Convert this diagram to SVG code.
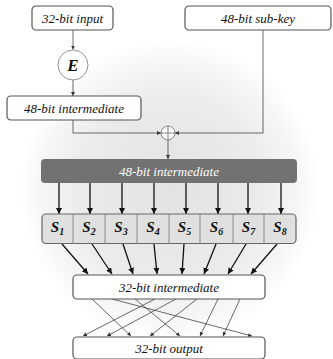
<svg xmlns="http://www.w3.org/2000/svg" width="333" height="359" viewBox="0 0 333 359">
<defs>
<radialGradient id="bg" cx="170" cy="190" r="150" gradientUnits="userSpaceOnUse">
<stop offset="0" stop-color="#e2e2e2"/>
<stop offset="0.6" stop-color="#ebebeb"/>
<stop offset="0.85" stop-color="#f6f6f6"/>
<stop offset="1" stop-color="#ffffff"/>
</radialGradient>
<marker id="a" viewBox="0 0 10 10" refX="10" refY="5" markerWidth="4" markerHeight="4" orient="auto" markerUnits="userSpaceOnUse"><path d="M0,0 L10,5 L0,10 z" fill="#333"/></marker>
<marker id="b" viewBox="0 0 10 10" refX="10" refY="5" markerWidth="6" markerHeight="6" orient="auto" markerUnits="userSpaceOnUse"><path d="M0,0 L10,5 L0,10 z" fill="#111"/></marker>
<style>
.box{fill:#fff;stroke:#555;stroke-width:1.2}
text{font-family:'Liberation Serif','Tinos','DejaVu Serif','Times New Roman',serif;font-style:italic}
.t{font-size:13px;fill:#111;text-anchor:middle}
.w{fill:#fff}
.s{font-weight:bold;font-size:15px;fill:#111;text-anchor:middle}
.e{font-weight:bold;font-size:17px;fill:#111;text-anchor:middle}
.c{fill:none;stroke:#444;stroke-width:0.8}
.k{fill:none;stroke:#111;stroke-width:1.3}
</style>
</defs>
<rect width="333" height="359" fill="#fff"/>
<circle cx="170" cy="190" r="150" fill="url(#bg)"/>
<g id="connectors">
<path class="c" d="M73,30 V49.5" marker-end="url(#a)"/>
<path class="c" d="M73,80 V96" marker-end="url(#a)"/>
<path class="c" d="M73,120 V133 H161" marker-end="url(#a)"/>
<path class="c" d="M263,30 V133 H175" marker-end="url(#a)"/>
<path class="c" d="M168,140 V159" marker-end="url(#a)"/>
<path class="k" d="M59,183 V214" marker-end="url(#b)"/>
<path class="k" d="M90,183 V214" marker-end="url(#b)"/>
<path class="k" d="M122,183 V214" marker-end="url(#b)"/>
<path class="k" d="M154,183 V214" marker-end="url(#b)"/>
<path class="k" d="M186,183 V214" marker-end="url(#b)"/>
<path class="k" d="M218,183 V214" marker-end="url(#b)"/>
<path class="k" d="M248,183 V214" marker-end="url(#b)"/>
<path class="k" d="M281,183 V214" marker-end="url(#b)"/>
<path class="k" d="M62,244 L88,274" marker-end="url(#b)"/>
<path class="k" d="M92,244 L112,274" marker-end="url(#b)"/>
<path class="k" d="M123,244 L133,274" marker-end="url(#b)"/>
<path class="k" d="M154,244 L157,274" marker-end="url(#b)"/>
<path class="k" d="M184,244 L182,274" marker-end="url(#b)"/>
<path class="k" d="M216,244 L204,274" marker-end="url(#b)"/>
<path class="k" d="M246,244 L228,274" marker-end="url(#b)"/>
<path class="k" d="M277,244 L251,274" marker-end="url(#b)"/>
<path class="c" d="M92,299 L131,336" marker-end="url(#a)"/>
<path class="c" d="M112,299 L252,336" marker-end="url(#a)"/>
<path class="c" d="M135,299 L180,336" marker-end="url(#a)"/>
<path class="c" d="M155,299 L83,336" marker-end="url(#a)"/>
<path class="c" d="M176,299 L107,336" marker-end="url(#a)"/>
<path class="c" d="M197,299 L150,336" marker-end="url(#a)"/>
<path class="c" d="M218,299 L200,336" marker-end="url(#a)"/>
<path class="c" d="M240,299 L223,336" marker-end="url(#a)"/>
</g>
<g id="input32"><rect class="box" x="32" y="6" width="81" height="24" rx="4"/><text class="t" x="72.5" y="22.5">32-bit input</text></g>
<g id="subkey"><rect class="box" x="185" y="6" width="146" height="24" rx="4"/><text class="t" x="258" y="22.5">48-bit sub-key</text></g>
<g id="expand"><circle cx="73" cy="65" r="15" fill="#fff" stroke="#777" stroke-width="0.8"/><text class="e" x="73" y="70.5">E</text></g>
<g id="inter48a"><rect class="box" x="7" y="96" width="134" height="24" rx="4"/><text class="t" x="74" y="112.5">48-bit intermediate</text></g>
<g id="xor"><circle cx="168" cy="133" r="7" fill="#fff" stroke="#666" stroke-width="0.8"/><path d="M161,133 H175 M168,126 V140" stroke="#666" stroke-width="0.8"/></g>
<g id="inter48b"><rect x="41" y="159" width="256" height="24" rx="4" fill="#727272"/><text class="t w" x="169" y="175.5">48-bit intermediate</text></g>
<g id="sboxes">
<rect x="42" y="214" width="254" height="29.5" rx="4" fill="#e0e0e0" stroke="#666" stroke-width="1.2"/>
<path d="M73,214 V243.5 M105,214 V243.5 M137,214 V243.5 M169,214 V243.5 M200,214 V243.5 M233,214 V243.5 M264,214 V243.5" stroke="#777" stroke-width="0.8"/>
<text class="s" x="57.5" y="232">S<tspan font-size="10" dy="3">1</tspan></text>
<text class="s" x="89" y="232">S<tspan font-size="10" dy="3">2</tspan></text>
<text class="s" x="121" y="232">S<tspan font-size="10" dy="3">3</tspan></text>
<text class="s" x="153" y="232">S<tspan font-size="10" dy="3">4</tspan></text>
<text class="s" x="184.5" y="232">S<tspan font-size="10" dy="3">5</tspan></text>
<text class="s" x="216.5" y="232">S<tspan font-size="10" dy="3">6</tspan></text>
<text class="s" x="248.5" y="232">S<tspan font-size="10" dy="3">7</tspan></text>
<text class="s" x="280" y="232">S<tspan font-size="10" dy="3">8</tspan></text>
</g>
<g id="inter32"><rect class="box" x="73" y="275" width="192" height="24" rx="4"/><text class="t" x="169" y="291.5">32-bit intermediate</text></g>
<g id="output32"><rect class="box" x="73" y="337" width="192" height="22" rx="4"/><text class="t" x="169" y="352.5">32-bit output</text></g>
</svg>
